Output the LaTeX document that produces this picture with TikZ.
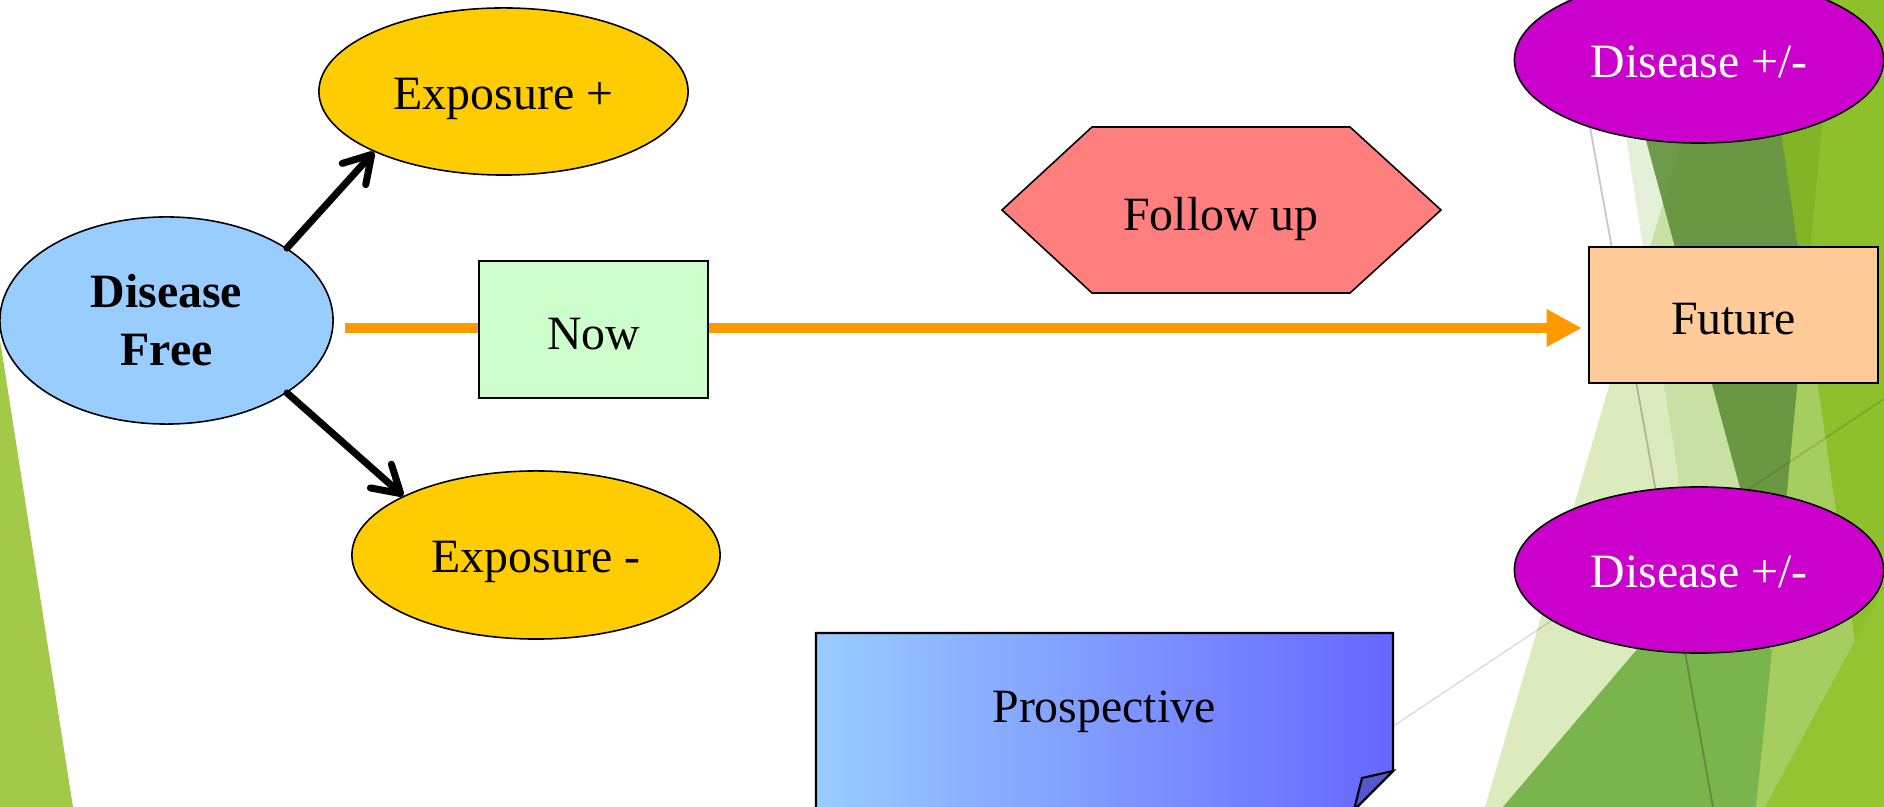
\documentclass[tikz,border=0pt]{standalone}
\usepackage{fontspec}
\setmainfont{Liberation Serif}
\usetikzlibrary{arrows.meta,shapes.geometric}
\definecolor{expo}{HTML}{FFCC00}
\definecolor{dfree}{HTML}{99CCFF}
\definecolor{nowc}{HTML}{CCFFCC}
\definecolor{follow}{HTML}{FF7F7F}
\definecolor{futc}{HTML}{FFCC99}
\definecolor{dis}{HTML}{CC00CC}
\definecolor{orng}{HTML}{FF9900}
\definecolor{prosL}{HTML}{99CCFF}
\definecolor{prosR}{HTML}{6666FF}
\definecolor{flapc}{RGB}{85,88,205}
\definecolor{gQ}{RGB}{140,190,40}
\definecolor{gR}{RGB}{120,180,60}
\definecolor{gC}{RGB}{165,205,95}
\definecolor{gB}{RGB}{90,140,50}
\definecolor{gA}{RGB}{135,189,31}
\definecolor{gM}{RGB}{122,180,76}
\definecolor{gD}{RGB}{148,196,50}
\definecolor{gL}{RGB}{162,201,72}
\tikzset{
  ell/.style={ellipse, draw=black, line width=0.45pt, inner sep=0pt, text height=10.2pt, text depth=0pt},
  boxc/.style={rectangle, draw=black, line width=0.6pt, inner sep=0pt, text height=11.2pt, text depth=0pt},
  blackarrow/.style={line width=2pt, line cap=round, -{Straight Barb[round,length=7.5pt,width=9pt]}},
  orangearrow/.style={draw=orng, line width=3.1pt, -{Triangle[length=10pt,width=10pt]}},
  thinline/.style={draw=black, line width=0.5pt},
}
\begin{document}
\begin{tikzpicture}[x=0.01cm,y=-0.01cm,font=\fontsize{13.6pt}{16.5pt}\selectfont]
\useasboundingbox (0,0) rectangle (1884,807);
\clip (0,0) rectangle (1884,807);
\fill[white] (0,0) rectangle (1884,807);
% background facets
\fill[gL] (0,340) -- (73,807) -- (0,807) -- cycle;
\fill[gQ, fill opacity=0.3] (1723,0) -- (1485,807) -- (1884,807) -- (1884,0) -- cycle;
\fill[gR, fill opacity=0.2] (1605,0) -- (1729,807) -- (1884,807) -- (1884,0) -- cycle;
\fill[gC] (1834,0) -- (1756,807) -- (1884,807) -- (1884,0) -- cycle;
\fill[gB, fill opacity=0.85] (1608,0) -- (1834,0) -- (1775,617) -- cycle;
\fill[gA, fill opacity=0.8] (1762,0) -- (1879,807) -- (1884,807) -- (1884,0) -- cycle;
\fill[gM] (1503,807) -- (1690,587) -- (1772,650) -- (1756,807) -- cycle;
\fill[gD] (1765,807) -- (1884,587) -- (1884,807) -- cycle;
\draw[thinline, draw opacity=0.22] (1567,0) -- (1713,807);
\draw[thinline, draw opacity=0.12] (1380,735) -- (1884,399);
% nodes
\node[boxc, fill=futc, minimum width=2.89cm, minimum height=1.36cm] (fut) at (1733.5,315) {Future};
\coordinate (ostart) at (345,328);
\draw[orangearrow, shorten >=0.06cm] (ostart) -- (ostart -| fut.west);
\node[boxc, fill=nowc, minimum width=2.29cm, minimum height=1.37cm] (now) at (593.5,329.5) {Now};
\node[ellipse, draw=black, line width=0.45pt, inner sep=0pt, fill=dfree, minimum width=3.33cm, minimum height=2.07cm, align=center, font=\fontsize{13.6pt}{16.5pt}\selectfont\bfseries] (df) at (166.5,320.5) {Disease\\Free};
\node[ell, fill=expo, minimum width=3.69cm, minimum height=1.67cm] (ep) at (503.5,91.5) {Exposure +};
\node[ell, fill=expo, minimum width=3.68cm, minimum height=1.68cm] (em) at (536,555) {Exposure -};
\node[ell, fill=dis, text=white, minimum width=3.69cm, minimum height=1.66cm] (d1) at (1699,60) {Disease +/-};
\node[ell, fill=dis, text=white, minimum width=3.69cm, minimum height=1.66cm] (d2) at (1699,570) {Disease +/-};
\draw[fill=follow, line width=0.45pt] (1002,210) -- (1092,127) -- (1350,127) -- (1441,210) -- (1350,293) -- (1092,293) -- cycle;
\node (fu) at (1221,219) {Follow up};
\draw[line width=0.6pt, left color=prosL, right color=prosR] (816,633) -- (1393,633) -- (1393,771) -- (1354,810) -- (816,810) -- cycle;
\draw[fill=flapc, line width=0.6pt] (1393,771) -- (1362,778) -- (1354,810) -- cycle;
\node (pro) at (1104,712) {Prospective};
% arrows
\draw[blackarrow] (df.31.8) -- (ep.205.1);
\draw[blackarrow] (df.-31.5) -- (em.156.1);
\end{tikzpicture}
\end{document}
